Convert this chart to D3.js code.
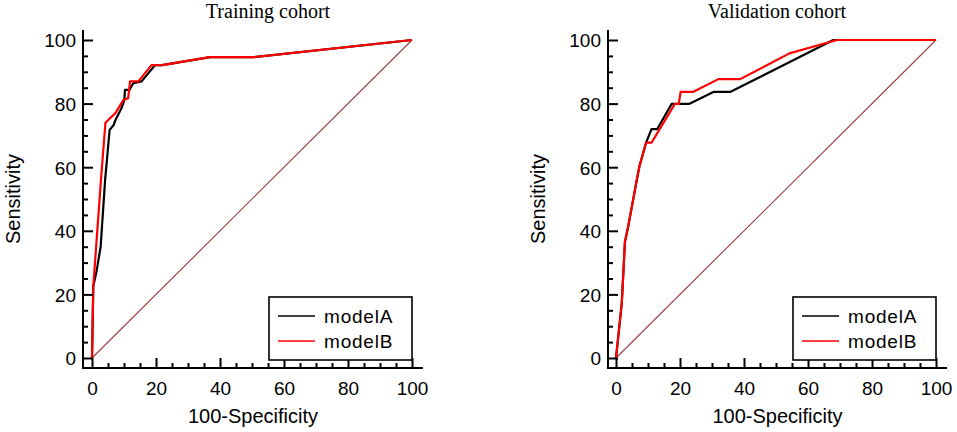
<!DOCTYPE html>
<html>
  <head>
    <meta charset="utf-8">
    <title>ROC curves</title>
    <script src="https://cdn.jsdelivr.net/npm/d3@7"></script>
    <style>
      body { margin: 0; background: #fff; }
      svg { display: block; }
      text { font-family: "Liberation Sans", Arial, sans-serif; fill: #000; }
      .title { font-family: "Liberation Serif", "Times New Roman", serif; font-size: 20px; }
      .tick text { font-size: 19px; }
      .axisTitle { font-size: 20px; }
      .legendText { font-size: 19px; letter-spacing: .8px; }
    </style>
  </head>

  <body>
    <svg id="chart" width="957" height="432"></svg>

    <script>
      // data: [100-specificity, sensitivity]
      trainModelA = [[0, 0], [0.4, 22.5], [1.5, 27.7], [2.7, 35], [4.1, 56], [5.5, 71.7], [6.8, 73.3],
        [7.3, 74.8], [9.2, 78.5], [10.1, 81.1], [10.3, 84.3], [11.7, 84.3], [12.9, 86.4], [15.5, 87],
        [19.7, 92.1], [21.9, 92.1], [36.9, 94.6], [50.4, 94.6], [100, 100]];
      trainModelB = [[0, 0], [0.4, 22.5], [2.8, 56], [4.2, 74], [7.3, 77], [9.8, 81.1], [11.3, 81.7],
        [11.9, 87], [14.5, 87], [18.6, 92.1], [21.9, 92.1], [36.9, 94.6], [50.4, 94.6], [100, 100]];
      validModelA = [[0, 0], [1.8, 17.2], [2.8, 36.6], [3.8, 41.3], [6.5, 56], [7.3, 60.2], [9.4, 67.7],
        [11.1, 72], [12.9, 72], [17.4, 79.9], [22.8, 79.9], [30.6, 83.7], [35.8, 83.7], [67.9, 100], [100, 100]];
      validModelB = [[0, 0], [1.8, 17.2], [2.8, 36.6], [3.8, 41.3], [6.5, 56], [7.3, 60.2], [9.4, 67.7],
        [11.1, 67.7], [18.4, 79.9], [19.6, 79.9], [20.2, 83.7], [24.2, 83.7], [32, 87.7], [38.8, 87.7],
        [54.2, 95.8], [69, 100], [100, 100]];
      diagonal = [[0, 0], [100, 100]];
      panelTitles = ["Training cohort", "Validation cohort"];
      modelNames = ["modelA", "modelB"];
      majorTicks = [0, 20, 40, 60, 80, 100];
      minorTicks = d3.range(0, 101, 5).filter(function(d) { return d % 20 != 0; });

      svg = d3.select("#chart");

      panels = [
        { left: 83, x0: 92, titleX: 268, title: panelTitles[0], series: [trainModelA, trainModelB] },
        { left: 608, x0: 616, titleX: 777, title: panelTitles[1], series: [validModelA, validModelB] }
      ];
      colours = ["#000000", "#ff0000"];

      panels.forEach(function(p) {
        x = d3.scaleLinear().domain([0, 100]).range([p.x0, p.x0 + 320]);
        y = d3.scaleLinear().domain([0, 100]).range([358, 40]);
        axisY = 368;
        right = x(100) + 11;

        g = svg.append("g");

        line = d3.line()
          .x(function(d) { return x(d[0]); })
          .y(function(d) { return y(d[1]); });

        // reference line
        g.append("path")
          .datum(diagonal)
          .attr("d", line)
          .attr("fill", "none")
          .attr("stroke", "#9a3c40")
          .attr("stroke-width", 1.1);

        // curves
        p.series.forEach(function(s, i) {
          g.append("path")
            .datum(s)
            .attr("d", line)
            .attr("fill", "none")
            .attr("stroke", colours[i])
            .attr("stroke-width", 2.2)
            .attr("stroke-linejoin", "round");
        });

        // x axis
        xMajor = g.append("g")
          .attr("transform", "translate(0," + axisY + ")")
          .call(d3.axisBottom(x).tickValues(majorTicks).tickSize(-10).tickPadding(13.5));
        xMinor = g.append("g")
          .attr("transform", "translate(0," + axisY + ")")
          .call(d3.axisBottom(x).tickValues(minorTicks).tickSize(-5).tickFormat(""));

        // y axis
        yMajor = g.append("g")
          .attr("transform", "translate(" + p.left + ",0)")
          .call(d3.axisLeft(y).tickValues(majorTicks).tickSize(-10).tickPadding(7));
        yMinor = g.append("g")
          .attr("transform", "translate(" + p.left + ",0)")
          .call(d3.axisLeft(y).tickValues(minorTicks).tickSize(-5).tickFormat(""));

        g.selectAll(".domain").remove();
        g.selectAll(".tick line").attr("stroke", "#000").attr("stroke-width", 2);
        g.selectAll(".tick text").attr("font-family", null).attr("font-size", null);
        yMajor.selectAll(".tick text").attr("dy", "0.36em");

        g.append("path")
          .attr("d", "M" + p.left + ",30V" + axisY + "H" + right)
          .attr("fill", "none")
          .attr("stroke", "#000")
          .attr("stroke-width", 2);

        // titles
        g.append("text")
          .attr("class", "title")
          .attr("x", p.titleX)
          .attr("y", 18)
          .attr("text-anchor", "middle")
          .text(p.title);

        g.append("text")
          .attr("class", "axisTitle")
          .attr("x", (p.left + right) / 2)
          .attr("y", 423)
          .attr("text-anchor", "middle")
          .text("100-Specificity");

        g.append("text")
          .attr("class", "axisTitle")
          .attr("transform", "translate(" + (p.left - 63) + ",199) rotate(-90)")
          .attr("text-anchor", "middle")
          .text("Sensitivity");

        // legend
        legendRight = x(100);
        legendLeft = legendRight - 143;
        legend = g.append("g");
        legend.append("rect")
          .attr("x", legendLeft)
          .attr("y", 297)
          .attr("width", 143)
          .attr("height", 63)
          .attr("fill", "#fff")
          .attr("stroke", "#000")
          .attr("stroke-width", 1.6);
        modelNames.forEach(function(name, i) {
          ly = 316 + i * 25;
          legend.append("line")
            .attr("x1", legendLeft + 9)
            .attr("x2", legendLeft + 46)
            .attr("y1", ly)
            .attr("y2", ly)
            .attr("stroke", colours[i])
            .attr("stroke-width", 1.6);
          legend.append("text")
            .attr("class", "legendText")
            .attr("x", legendLeft + 55)
            .attr("y", ly + 7)
            .text(name);
        });
      });
    </script>
  </body>
</html>
